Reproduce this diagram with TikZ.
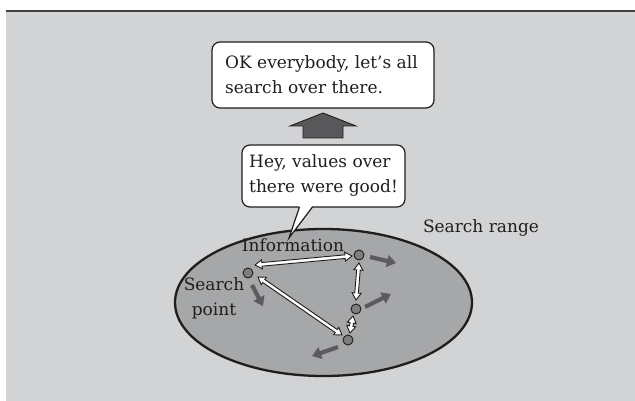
\documentclass[tikz,border=0pt]{standalone}
\usepackage{fontspec}
\setmainfont{DejaVu Serif}
\usetikzlibrary{calc,arrows.meta}
\definecolor{bg}{HTML}{D2D3D5}
\definecolor{range}{HTML}{A6A7A9}
\definecolor{ink}{HTML}{1E1E1E}
\definecolor{partfill}{HTML}{7E7E80}
\definecolor{velcol}{HTML}{5C5C5E}
\definecolor{bigarr}{HTML}{58585A}
\tikzset{
  bubble/.style={draw=ink, fill=white, line width=1.2pt, rounded corners=8pt},
  txt/.style={font=\fontsize{17pt}{25pt}\selectfont, text=ink},
  particle/.style={circle, draw=ink, fill=partfill, line width=0.9pt, minimum size=10pt, inner sep=0pt},
  vel/.style={draw=velcol, line width=4.2pt, -{Triangle[length=9pt,width=12pt]}},
}
\newcommand\dblarr[2]{%
  \path[draw=ink, fill=white, line width=0.9pt, line join=miter]
    let \p1=($(#2)-(#1)$), \n1={atan2(\y1,\x1)} in
    (#1) -- ($(#1)+(\n1:7pt)+(\n1+90:4.5pt)$) -- ($(#1)+(\n1:7pt)+(\n1+90:1.8pt)$)
    -- ($(#2)+(\n1:-7pt)+(\n1+90:1.8pt)$) -- ($(#2)+(\n1:-7pt)+(\n1+90:4.5pt)$) -- (#2)
    -- ($(#2)+(\n1:-7pt)+(\n1-90:4.5pt)$) -- ($(#2)+(\n1:-7pt)+(\n1-90:1.8pt)$)
    -- ($(#1)+(\n1:7pt)+(\n1-90:1.8pt)$) -- ($(#1)+(\n1:7pt)+(\n1-90:4.5pt)$) -- cycle;}
\begin{document}
\begin{tikzpicture}[x=1pt,y=-1pt]
\useasboundingbox (0,0) rectangle (635,401);
\fill[bg] (6,11) rectangle (635,401);
\draw[line width=1.2pt, draw=ink!85] (6,11) -- (635,11);

% search range
\draw[fill=range, draw=ink, line width=2.3pt] (323.5,302.5) ellipse [x radius=148.5pt, y radius=73.5pt];
\node[txt] (range) at (481,228) {Search range};
\node[txt] (info) at (293,245) {Information};
\node[txt, align=center] (sp) at (214,298) {Search\\point};

% particles
\node[particle] (p1) at (248,273) {};
\node[particle] (p2) at (359,255) {};
\node[particle] (p3) at (356,309) {};
\node[particle] (p4) at (348,340) {};

% information exchange arrows
\coordinate (a12s) at (255,265); \coordinate (a12e) at (352,256);
\coordinate (a14s) at (258,277); \coordinate (a14e) at (342,335);
\coordinate (a23s) at (359,263); \coordinate (a23e) at (356,300);
\coordinate (a34s) at (353,316); \coordinate (a34e) at (350,333);
\dblarr{a12s}{a12e}
\dblarr{a14s}{a14e}
\dblarr{a23s}{a23e}
\dblarr{a34s}{a34e}

% velocity arrows
\coordinate (v1s) at (252,285); \coordinate (v1e) at (263,306);
\coordinate (v2s) at (370,257); \coordinate (v2e) at (396,263);
\coordinate (v3s) at (365,307); \coordinate (v3e) at (391,294);
\coordinate (v4s) at (338,347); \coordinate (v4e) at (312,356);
\draw[vel] (v1s) -- (v1e);
\draw[vel] (v2s) -- (v2e);
\draw[vel] (v3s) -- (v3e);
\draw[vel] (v4s) -- (v4e);

% callout
\node[bubble, minimum width=163pt, minimum height=62pt] (hey) at (323.5,176) {};
\node[txt, align=left, anchor=north west, inner sep=0pt] (heyt) at (249,154) {Hey, values over\\there were good!};
\coordinate (tip) at (289,238);
\fill[white] (299.5,205.8) -- (tip) -- (312.5,205.8) -- cycle;
\draw[draw=ink, line width=1.2pt, line join=miter] (299.5,207) -- (tip) -- (312.5,207);

% big arrow
\draw[fill=bigarr, draw=ink, line width=0.9pt] (323,113) -- (356,126) -- (343,126) -- (343,138) -- (303,138) -- (303,126) -- (290,126) -- cycle;

% top bubble
\node[bubble, minimum width=222pt, minimum height=66pt] (ok) at (323,75) {};
\node[txt, align=left, anchor=north west, inner sep=0pt] (okt) at (225,55) {OK everybody, let’s all\\search over there.};
\end{tikzpicture}
\end{document}
